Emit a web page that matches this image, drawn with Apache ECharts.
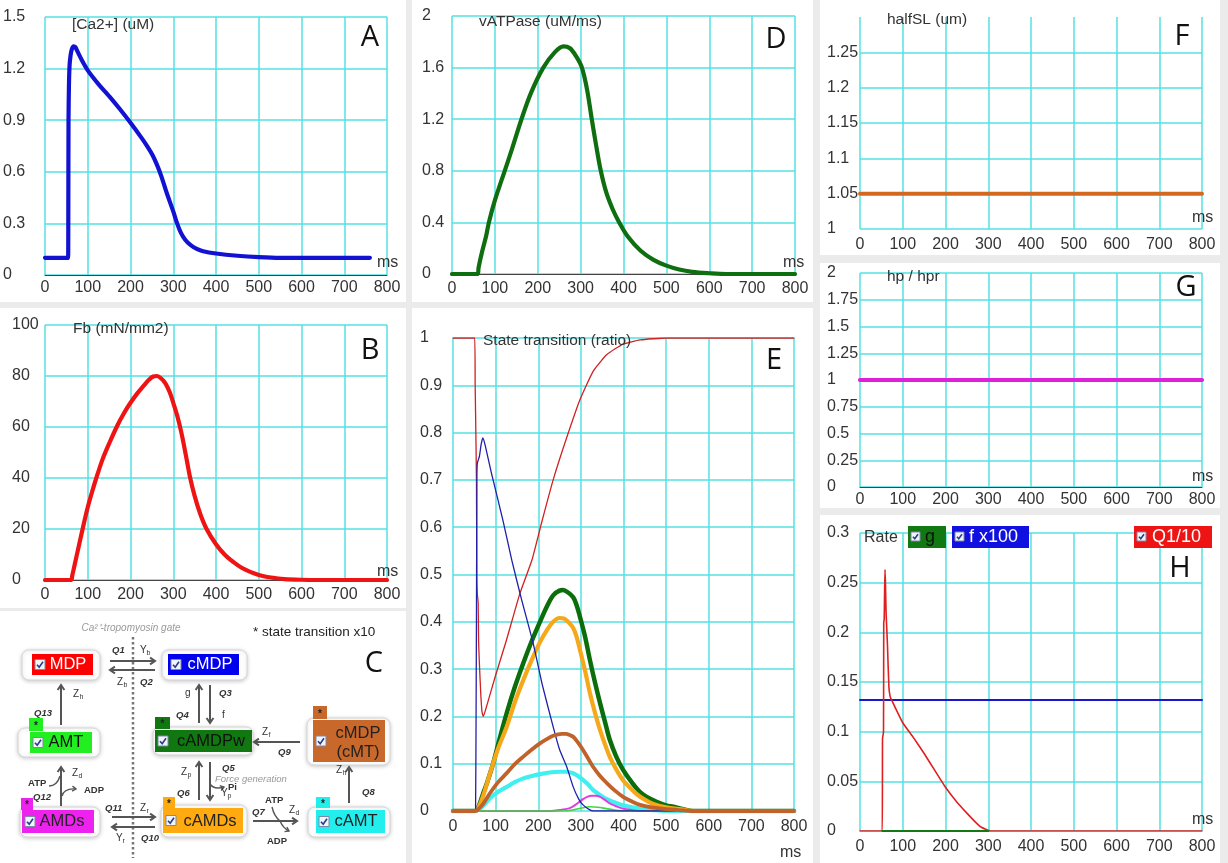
<!DOCTYPE html>
<html>
<head>
<meta charset="utf-8">
<script src="https://cdn.jsdelivr.net/npm/echarts@6/dist/echarts.min.js"></script>
<style>
html, body { margin: 0; padding: 0; background: #ebebeb; }
#chart { width: 1228px; height: 863px; }
</style>
</head>
<body>
<div id="chart"></div>
<script>
// ---- Simulation traces: [time (ms), value] ----
const caPoints = [[0,0.1],[54,0.1],[54.5,0.3],[55,0.9],[56,1.1],[57.5,1.22],[60,1.28],[63,1.315],[67,1.33],[71,1.325],[76,1.3],[85,1.255],[100,1.19],[125,1.11],[150,1.04],[175,0.965],[200,0.885],[225,0.8],[240,0.745],[252,0.695],[262,0.64],[272,0.575],[285,0.475],[300,0.37],[309,0.3],[318,0.245],[328,0.205],[340,0.175],[355,0.152],[370,0.138],[400,0.125],[450,0.112],[500,0.104],[550,0.1],[760,0.1]];

const fbPoints = [[0,0],[60,0],[64,2],[70,6.5],[80,14],[90,21.5],[100,28.5],[110,34.5],[120,40],[135,47.5],[150,53.5],[169,60.5],[185,65.5],[200,69.5],[215,73],[230,76],[243,78.5],[253,79.8],[262,80],[272,79],[282,77],[292,73.5],[300,69.5],[310,64],[320,57],[330,48.5],[339,40.5],[350,33],[363,26],[378,20],[400,14],[420,10],[441,7],[460,4.8],[480,3.2],[500,2],[520,1.2],[540,0.7],[560,0.35],[600,0.1],[640,0],[800,0]];

const atpasePoints = [[0,0],[60,0],[62,0.05],[70,0.17],[80,0.3],[86,0.4],[100,0.57],[123,0.8],[140,0.97],[162,1.2],[185,1.41],[213,1.6],[240,1.72],[260,1.765],[275,1.75],[290,1.685],[303,1.6],[315,1.43],[326,1.2],[336,1.0],[347,0.8],[360,0.63],[375,0.5],[390,0.4],[410,0.29],[440,0.18],[470,0.11],[500,0.065],[530,0.035],[560,0.017],[600,0.006],[640,0],[800,0]];

// State transition ratios
const mdpPoints = [[0,1],[51,1],[52,0.9],[53,0.84],[55,0.7],[56,0.5],[57,0.46],[59,0.44],[60,0.36],[62,0.31],[65,0.25],[68,0.21],[71,0.2],[80,0.225],[100,0.287],[125,0.36],[157,0.46],[185,0.53],[208,0.61],[235,0.7],[267,0.79],[298,0.87],[329,0.93],[361,0.965],[399,0.987],[439,0.996],[500,1],[800,1]];
const cmdpPoints = [[0,0],[52,0],[53,0.005],[54,0.17],[55,0.4],[56,0.7],[57,0.735],[62,0.75],[66,0.775],[70,0.789],[75,0.775],[90,0.715],[117,0.615],[138,0.53],[160,0.45],[188,0.355],[210,0.265],[235,0.178],[250,0.13],[267,0.093],[282,0.051],[295,0.025],[305,0.013],[320,0.003],[330,0],[800,0]];
const camdpwPoints = [[0,0],[52,0],[58,0.005],[70,0.035],[80,0.06],[94,0.1],[110,0.155],[126,0.207],[145,0.262],[165,0.313],[185,0.36],[204,0.4],[220,0.432],[235,0.456],[250,0.466],[258,0.467],[270,0.462],[282,0.452],[290,0.435],[298,0.41],[310,0.368],[321,0.32],[333,0.272],[345,0.228],[357,0.187],[368,0.15],[383,0.115],[399,0.087],[420,0.06],[439,0.04],[460,0.027],[479,0.019],[500,0.012],[517,0.009],[540,0.004],[563,0],[800,0]];
const camdsPoints = [[0,0],[52,0],[58,0.004],[70,0.03],[87,0.08],[105,0.13],[126,0.178],[145,0.23],[165,0.277],[185,0.32],[204,0.357],[220,0.382],[235,0.4],[250,0.408],[260,0.407],[270,0.4],[282,0.387],[290,0.368],[298,0.34],[310,0.296],[321,0.25],[333,0.208],[345,0.171],[357,0.14],[368,0.114],[383,0.088],[399,0.065],[420,0.045],[439,0.03],[460,0.019],[479,0.012],[500,0.008],[520,0.005],[540,0.003],[563,0],[800,0]];
const cmtPoints = [[0,0],[52,0],[58,0.003],[70,0.014],[87,0.038],[105,0.06],[126,0.08],[145,0.099],[165,0.115],[185,0.13],[204,0.143],[220,0.152],[235,0.159],[255,0.163],[265,0.163],[275,0.16],[282,0.157],[293,0.145],[305,0.129],[317,0.111],[329,0.093],[345,0.074],[361,0.059],[380,0.043],[399,0.03],[420,0.02],[439,0.013],[470,0.007],[500,0.004],[530,0.002],[560,0],[800,0]];
const camtPoints = [[0,0],[52,0],[58,0.002],[70,0.01],[87,0.027],[105,0.04],[126,0.051],[145,0.061],[165,0.069],[185,0.074],[204,0.078],[230,0.082],[250,0.083],[265,0.083],[282,0.08],[293,0.074],[305,0.066],[317,0.056],[329,0.044],[345,0.034],[361,0.025],[380,0.018],[399,0.012],[420,0.008],[439,0.005],[470,0.002],[510,0],[800,0]];
const amdsPoints = [[0,0],[230,0],[250,0.002],[270,0.005],[282,0.01],[293,0.017],[305,0.025],[315,0.03],[325,0.032],[335,0.032],[345,0.03],[357,0.023],[368,0.016],[383,0.01],[399,0.005],[420,0.002],[440,0],[800,0]];
const amtPoints = [[0,0],[260,0],[280,0.002],[300,0.006],[321,0.009],[340,0.008],[360,0.005],[380,0.002],[400,0],[800,0]];

const halfSLPoints = [[0,1.05],[800,1.05]];
const hpRatioPoints = [[0,1],[800,1]];

// Rates
const q1Points = [[0,0],[52,0],[52.7,0.093],[55,0.1],[55.5,0.21],[56.6,0.213],[57.5,0.24],[58.5,0.263],[59.5,0.25],[61,0.22],[63,0.2],[64.5,0.184],[67.6,0.145],[70.7,0.135],[75,0.131],[81.6,0.125],[100,0.109],[125,0.094],[150,0.078],[175,0.061],[200,0.044],[225,0.03],[250,0.018],[270,0.009],[283,0.004],[298,0.001],[305,0],[800,0]];
const fRatePoints = [[0,0.132],[800,0.132]];
const gRatePoints = [[53,0],[300,0]];

const timeTickLabels = ['0','100','200','300','400','500','600','700','800'];

// ---- Styling / layout ----
const FONT = "'Liberation Sans', Arial, sans-serif";
const LETTER_FONT = "'Open Sans', 'Noto Sans', sans-serif";
const GRID_COLOR = '#55e0e0';
const TEXT_COLOR = '#333';

const panels = [
  {grid:{left:45,  top:17,  width:342, height:258}, y:{min:0, max:1.5, interval:0.3},  yMargin:42, xMargin:5, axisLine:true},
  {grid:{left:45,  top:325, width:342, height:255}, y:{min:0, max:100, interval:20},   yMargin:33, xMargin:7, axisLine:true},
  {grid:{left:452, top:16,  width:343, height:258}, y:{min:0, max:2,   interval:0.4},  yMargin:30, xMargin:7, axisLine:true},
  {grid:{left:453, top:338, width:341, height:473}, y:{min:0, max:1,   interval:0.1},  yMargin:33, xMargin:8, axisLine:false},
  {grid:{left:860, top:17,  width:342, height:212}, y:{min:1, max:1.3, interval:0.05}, yMargin:33, xMargin:8, axisLine:false, hideTop:true},
  {grid:{left:860, top:273, width:342, height:214}, y:{min:0, max:2,   interval:0.25}, yMargin:33, xMargin:5, axisLine:true},
  {grid:{left:860, top:533, width:342, height:298}, y:{min:0, max:0.3, interval:0.05}, yMargin:33, xMargin:8, axisLine:false}
];

const grids = panels.map(p => Object.assign({containLabel:false, show:false}, p.grid));

const xAxes = panels.map((p, i) => ({
  type:'value', gridIndex:i, min:0, max:800, interval:100,
  axisLine:{show:p.axisLine, onZero:false, lineStyle:{color:'#444', width:1}},
  axisTick:{show:false},
  axisLabel:{color:TEXT_COLOR, fontSize:16, fontFamily:FONT, margin:p.xMargin,
             formatter: v => timeTickLabels[Math.round(v/100)]},
  splitLine:{show:true, lineStyle:{color:GRID_COLOR, width:1.5}}
}));

const yAxes = panels.map((p, i) => {
  const nTicks = Math.round((p.y.max - p.y.min) / p.y.interval) + 1;
  const lineColors = [];
  for (let k = 0; k < nTicks; k++) lineColors.push(p.hideTop && k === nTicks - 1 ? 'rgba(0,0,0,0)' : GRID_COLOR);
  return {
    type:'value', gridIndex:i, min:p.y.min, max:p.y.max, interval:p.y.interval,
    axisLine:{show:false}, axisTick:{show:false},
    axisLabel:{color:TEXT_COLOR, fontSize:16, fontFamily:FONT, align:'left', margin:p.yMargin,
               formatter: v => (p.hideTop && Math.abs(v - p.y.max) < 1e-9) ? '' : String(+v.toFixed(4))},
    splitLine:{show:true, lineStyle:{color:lineColors, width:1.5}}
  };
});

function line(name, idx, data, color, width, z, smooth) {
  return {
    name, type:'line', xAxisIndex:idx, yAxisIndex:idx, data,
    showSymbol:false, symbol:'none', silent:true, animation:false,
    smooth: smooth === undefined ? 0.35 : smooth,
    z: z || 3,
    lineStyle:{color, width, cap:'round', join:'round'}
  };
}

const series = [
  line('[Ca2+]', 0, caPoints, '#1212d2', 4.2, 3, 0.2),
  line('Fb', 1, fbPoints, '#ee1414', 4.2),
  line('vATPase', 2, atpasePoints, '#0f6e0f', 4.2),
  line('cAMDPw', 3, camdpwPoints, '#0b6e0b', 4.5, 3),
  line('cAMDs', 3, camdsPoints, '#f5a81a', 4.2, 3),
  line('cAMT', 3, camtPoints, '#40f0f0', 4.2, 3),
  line('AMDs', 3, amdsPoints, '#e03ce0', 2, 4),
  line('AMT', 3, amtPoints, '#40d840', 1.6, 4),
  line('MDP', 3, mdpPoints, '#d02020', 1.3, 5, 0.15),
  line('cMDP', 3, cmdpPoints, '#2020a8', 1.3, 5, 0.15),
  line('cMDP (cMT)', 3, cmtPoints, '#c0622a', 3.8, 6),
  line('halfSL', 4, halfSLPoints, '#d2691e', 4, 3, false),
  line('hp / hpr', 5, hpRatioPoints, '#e020d8', 4.2, 3, false),
  line('f x100', 6, fRatePoints, '#1818c8', 2, 3, false),
  line('Q1/10', 6, q1Points, '#e02020', 1.6, 4, 0.15),
  line('g', 6, gRatePoints, '#147814', 2.2, 5, false)
];

// ---- Graphic layer: panel backgrounds, captions, reaction scheme ----
const gfx = [];
function T(x, y, s, o) {
  o = o || {};
  const align = o.align || 'left', va = o.va || 'middle';
  gfx.push({type:'text', x, y, z:o.z === undefined ? 20 : o.z, silent:true,
    style:{text:s, fill:o.fill || TEXT_COLOR, font:o.font || ('15.5px ' + FONT),
           align, verticalAlign:va, textAlign:align, textVerticalAlign:va}});
}
function R(x, y, w, h, fill, o) {
  o = o || {};
  gfx.push({type:'rect', z:o.z === undefined ? 10 : o.z, silent:true,
    shape:{x, y, width:w, height:h, r:o.r || 0},
    style:Object.assign({fill}, o.style || {})});
}
function Ln(x1, y1, x2, y2, o) {
  o = o || {};
  gfx.push({type:'line', z:o.z === undefined ? 12 : o.z, silent:true, shape:{x1, y1, x2, y2},
    style:{stroke:o.stroke || '#555', lineWidth:o.w || 2, lineDash:o.dash || null, lineCap:o.cap || 'butt'}});
}
function head(x, y, ang, len, w) {
  const L = len || 6, s = 0.6;
  gfx.push({type:'polyline', z:12, silent:true,
    shape:{points:[[x - L*Math.cos(ang - s), y - L*Math.sin(ang - s)], [x, y], [x - L*Math.cos(ang + s), y - L*Math.sin(ang + s)]]},
    style:{stroke:'#555', lineWidth:w || 2, fill:null}});
}
function arrow(x1, y1, x2, y2) {
  Ln(x1, y1, x2, y2);
  head(x2, y2, Math.atan2(y2 - y1, x2 - x1));
}
function curve(x1, y1, cx, cy, x2, y2, withHead) {
  gfx.push({type:'bezierCurve', z:12, silent:true, shape:{x1, y1, x2, y2, cpx1:cx, cpy1:cy},
    style:{stroke:'#555', lineWidth:1.4, fill:null}});
  if (withHead) head(x2, y2, Math.atan2(y2 - cy, x2 - cx), 4.5, 1.4);
}
function checkbox(x, y, s) {
  s = s || 10;
  R(x, y, s, s, '#f2f4fa', {z:14, style:{stroke:'#7d8aa5', lineWidth:1}});
  gfx.push({type:'polyline', z:15, silent:true,
    shape:{points:[[x + 2, y + s*0.52], [x + s*0.42, y + s - 2.2], [x + s - 2, y + 2.2]]},
    style:{stroke:'#243f8f', lineWidth:1.6, fill:null}});
}
const BOLD_IT = 'italic bold 9.5px ' + FONT;
const SMALL = '10px ' + FONT;
function rateLabel(x, y, s) { T(x, y, s, {font:BOLD_IT, fill:'#333'}); }
function zLabel(x, y, main, sub) {
  T(x, y, main, {font:SMALL, fill:'#333'});
  T(x + 6.5, y + 3, sub, {font:'7px ' + FONT, fill:'#333'});
}
function stateBox(o) {
  R(o.ox, o.oy, o.ow, o.oh, '#ffffff', {z:11, r:7,
    style:{stroke:'#d6d6d6', lineWidth:1, shadowBlur:4, shadowColor:'rgba(0,0,0,0.2)', shadowOffsetY:1}});
  if (o.star) {
    R(o.star[0], o.star[1], o.star[2], o.star[3], o.color, {z:13});
    T(o.star[0] + o.star[2]/2, o.star[1] + o.star[3]/2 + 1.5, '*', {font:'bold 10px ' + FONT, fill:'#222', align:'center', z:16});
  }
  R(o.x, o.y, o.w, o.h, o.color, {z:13});
  checkbox(o.x + 3, o.cy - 5);
  o.lines.forEach((s, k) => T(o.tx, o.ty[k], s, {font:'16.5px ' + FONT, fill:o.textColor, align:'center', z:16}));
}

// panel backgrounds
[[0,0,406,302],[0,308,406,300],[0,611,406,252],[412,0,401,302],[412,308,401,555],
 [820,0,400,255],[820,263,400,245],[820,515,400,348]].forEach(r => R(r[0], r[1], r[2], r[3], '#ffffff', {z:-10}));

// captions
T(72, 25, '[Ca2+] (uM)');
T(73, 329, 'Fb (mN/mm2)');
T(479, 22, 'vATPase (uM/ms)');
T(483, 341, 'State transition (ratio)');
T(887, 20, 'halfSL (um)');
T(887, 277, 'hp / hpr');
T(864, 538, 'Rate', {font:'16px ' + FONT});
[[377,263],[377,572],[783,263],[780,853],[1192,218],[1192,477],[1192,820]].forEach(p => T(p[0], p[1], 'ms', {font:'16px ' + FONT}));

// panel letters
[['A',370,38],['B',370,351],['C',374,664],['D',776,40],['E',774,361],['F',1182,37],['G',1186,288],['H',1180,569]]
  .forEach(l => T(l[1], l[2], l[0], {font:'29px ' + LETTER_FONT, fill:'#111', align:'center'}));

// rate legend
[[908,38,'#127812','g','#111',925],[952,77,'#1010e0','f x100','#ffffff',969],[1134,78,'#ee1414','Q1/10','#ffffff',1152]]
  .forEach(b => {
    R(b[0], 526, b[1], 22, b[2], {z:13});
    checkbox(b[0] + 3, 532, 9);
    T(b[5], 537.5, b[3], {font:'18px ' + FONT, fill:b[4], z:16});
  });

// reaction scheme
T(131, 628, 'Ca\u00b2\u207a-tropomyosin gate', {font:'italic 10px ' + FONT, fill:'#9a9a9a', align:'center'});
T(253, 632, '* state transition x10', {font:'13.5px ' + FONT, fill:'#222'});
Ln(133, 637, 133, 858, {stroke:'#777', w:2.5, dash:[2.5, 2.5]});

stateBox({ox:22, oy:650, ow:78, oh:30, x:32, y:654, w:61, h:21, cy:664.5, color:'#ff0000', lines:['MDP'], tx:68, ty:[664.5], textColor:'#ffffff'});
stateBox({ox:162, oy:650, ow:85, oh:30, x:168, y:654, w:71, h:21, cy:664.5, color:'#0000ee', lines:['cMDP'], tx:210, ty:[664.5], textColor:'#ffffff'});
stateBox({ox:18, oy:728, ow:82, oh:29, x:30, y:732, w:62, h:21, cy:742.5, color:'#22ee22', star:[29,718,14,13], lines:['AMT'], tx:66, ty:[742.5], textColor:'#111'});
stateBox({ox:153, oy:727, ow:100, oh:28, x:155, y:730, w:97, h:22, cy:741, color:'#117711', star:[155,717,15,12], lines:['cAMDPw'], tx:211, ty:[741], textColor:'#111'});
stateBox({ox:307, oy:718, ow:83, oh:47, x:313, y:720, w:72, h:42, cy:741, color:'#c8682a', star:[313,706,14,13], lines:['cMDP','(cMT)'], tx:358, ty:[733,752], textColor:'#222'});
stateBox({ox:20, oy:807, ow:80, oh:30, x:22, y:810, w:72, h:23, cy:821.5, color:'#ee22ee', star:[21,798,12,12], lines:['AMDs'], tx:62, ty:[821.5], textColor:'#222'});
stateBox({ox:161, oy:805, ow:86, oh:32, x:163, y:808, w:80, h:25, cy:820.5, color:'#ffaa11', star:[163,797,12,11], lines:['cAMDs'], tx:210, ty:[821], textColor:'#222'});
stateBox({ox:308, oy:807, ow:82, oh:30, x:316, y:810, w:69, h:23, cy:821.5, color:'#22eeee', star:[316,797,14,11], lines:['cAMT'], tx:356, ty:[821.5], textColor:'#222'});

arrow(110, 661, 155, 661);
arrow(155, 670, 110, 670);
rateLabel(112, 650, 'Q1'); zLabel(140, 650, 'Y', 'b');
zLabel(117, 682, 'Z', 'b'); rateLabel(140, 682, 'Q2');

arrow(61, 725, 61, 685);
zLabel(73, 694, 'Z', 'h'); rateLabel(34, 713, 'Q13');

arrow(199, 723, 199, 685);
arrow(210, 685, 210, 723);
T(185, 693, 'g', {font:SMALL}); rateLabel(219, 693, 'Q3');
rateLabel(176, 715, 'Q4'); T(222, 715, 'f', {font:SMALL});

arrow(300, 742, 254, 742);
zLabel(262, 732, 'Z', 'f'); rateLabel(278, 752, 'Q9');

arrow(199, 800, 199, 762);
arrow(210, 762, 210, 800);
zLabel(181, 772, 'Z', 'p'); rateLabel(222, 768, 'Q5');
T(215, 779, 'Force generation', {font:'italic 9.5px ' + FONT, fill:'#999'});
curve(210, 784, 214, 790, 224, 787, true);
T(228, 787, 'Pi', {font:'bold 9.5px ' + FONT});
zLabel(221, 793, 'Y', 'p'); rateLabel(177, 793, 'Q6');

arrow(61, 806, 61, 767);
zLabel(72, 773, 'Z', 'd');
curve(49, 786, 57, 786, 60, 776, false);
curve(62, 796, 64, 788, 76, 789, true);
T(28, 783, 'ATP', {font:'bold 9.5px ' + FONT});
T(84, 790, 'ADP', {font:'bold 9.5px ' + FONT});
rateLabel(33, 797, 'Q12');

arrow(112, 817, 155, 817);
arrow(155, 827, 112, 827);
rateLabel(105, 808, 'Q11'); zLabel(140, 808, 'Z', 'r');
zLabel(116, 838, 'Y', 'r'); rateLabel(141, 838, 'Q10');

arrow(253, 821, 297, 821);
rateLabel(252, 812, 'Q7');
T(265, 800, 'ATP', {font:'bold 9.5px ' + FONT});
zLabel(289, 810, 'Z', 'd');
curve(272, 807, 274, 816, 280, 821, false);
curve(280, 821, 283, 828, 289, 831, true);
T(267, 841, 'ADP', {font:'bold 9.5px ' + FONT});

arrow(349, 803, 349, 767);
zLabel(336, 770, 'Z', 'h'); rateLabel(362, 792, 'Q8');

const chart = echarts.init(document.getElementById('chart'), null, {renderer:'canvas'});
chart.setOption({
  backgroundColor:'#ebebeb',
  animation:false,
  grid:grids,
  xAxis:xAxes,
  yAxis:yAxes,
  series:series,
  graphic:{elements:gfx}
});
</script>
</body>
</html>
